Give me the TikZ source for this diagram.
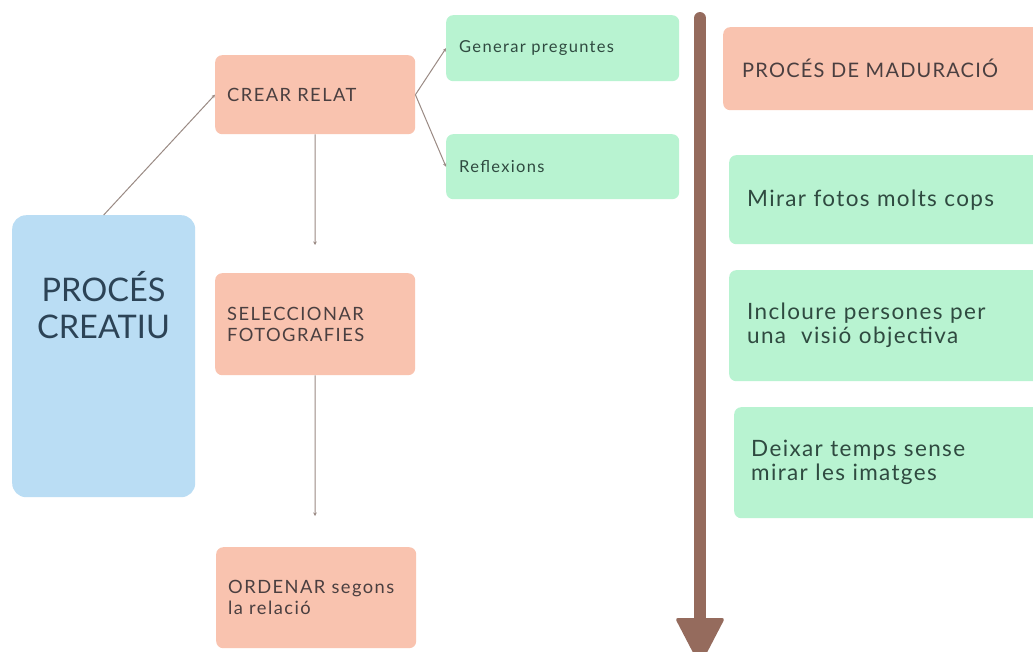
\documentclass[tikz,border=0pt]{standalone}
\usepackage{fontspec}
\setmainfont{Lato}
\newfontfamily\spaced[LetterSpace=8]{Lato}
\newfontfamily\spacedb[LetterSpace=6]{Lato}
\usetikzlibrary{arrows.meta}
\definecolor{salmon}{HTML}{F9C3AF}
\definecolor{mint}{HTML}{B8F3D1}
\definecolor{sky}{HTML}{BADDF4}
\definecolor{brownbar}{HTML}{956B5D}
\definecolor{txtdark}{HTML}{4A3F40}
\definecolor{txtgreen}{HTML}{2F4A40}
\definecolor{txtblue}{HTML}{2C4356}
\definecolor{conn}{HTML}{9A8A84}
\begin{document}
\begin{tikzpicture}[x=1pt,y=-1pt,
  box/.style n args={3}{rounded corners=7pt, anchor=north west, inner xsep=12pt, inner ysep=0pt,
    text width=#1pt-24pt, minimum width=#1pt, minimum height=#2pt, align=left, fill=#3},
  stextbox/.style={text=txtdark, font=\spaced\fontsize{18.3}{21}\selectfont},
  gtextsmall/.style={text=txtgreen, font=\spaced\fontsize{16.5}{18}\selectfont},
  gtextbig/.style={text=txtgreen, font=\spacedb\fontsize{22.5}{24}\selectfont},
  conn/.style={draw=conn, line width=1pt, -{Stealth[length=3.5pt,width=3.5pt]}}]
\useasboundingbox (0,0) rectangle (1033,651);
\clip (0,0) rectangle (1033,651);
\fill[white] (0,0) rectangle (1033,651);

% left column
\node[box={183}{282}{sky}, rounded corners=14pt] (creatiu) at (12,215) {};
\node[text=txtblue, font=\fontsize{32.5}{37}\selectfont, align=center, inner sep=0pt] (creatiut) at (103.5,305) {PROCÉS\\CREATIU};

\node[box={200}{79}{salmon}, stextbox] (crear) at (215,55) {CREAR RELAT};
\node[box={200}{102}{salmon}, stextbox] (select) at (215,273) {SELECCIONAR\\FOTOGRAFIES};
\node[box={200}{101}{salmon}, stextbox] (order) at (216,547) {ORDENAR segons\\la relació};

\node[box={231}{66}{mint}, gtextsmall, inner xsep=13pt] (gen) at (446,15) {Generar preguntes};
\node[box={231}{65}{mint}, gtextsmall, inner xsep=13pt] (refl) at (446,134) {Reflexions};

\coordinate (c1) at (315,245);
\coordinate (c2) at (315,516);

\draw[conn] (creatiu.north) -- (crear.west);
\draw[conn] (crear.east) -- (gen.west);
\draw[conn] (crear.east) -- (refl.west);
\draw[conn] (crear.south) -- (c1);
\draw[conn] (select.south) -- (c2);

% timeline arrow
\draw[brownbar, line width=12pt, line cap=round] (700,18) -- (700,630);
\fill[brownbar, rounded corners=3pt] (675,618) -- (725,618) -- (700,666) -- cycle;

% right column
\node[box={320}{83}{salmon}, text=txtdark, font=\spacedb\fontsize{20}{24}\selectfont, inner xsep=19pt, text width=282pt] (madur) at (723,27) {PROCÉS DE MADURACIÓ};
\node[box={320}{89}{mint}, gtextbig, inner xsep=18pt, text width=284pt] (mirar) at (729,155) {Mirar fotos molts cops};
\node[box={320}{111}{mint}, gtextbig, inner xsep=18pt, text width=284pt] (incl) at (729,270) {Incloure persones per\\una\ \ visió objectiva};
\node[box={310}{111}{mint}, gtextbig, inner xsep=17pt, text width=276pt] (deix) at (734,407) {Deixar temps sense\\mirar les imatges};
\end{tikzpicture}
\end{document}
